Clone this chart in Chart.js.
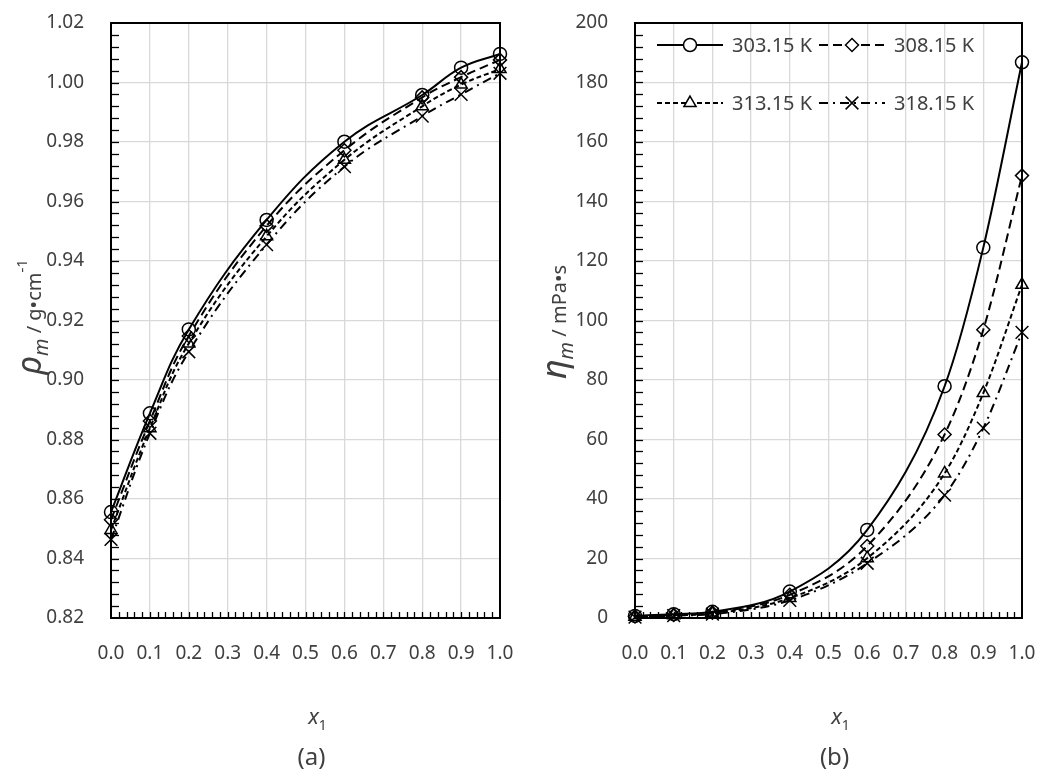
<!DOCTYPE html>
<html>
<head>
<meta charset="utf-8">
<script src="https://cdn.jsdelivr.net/npm/chart.js@4.4.1/dist/chart.umd.min.js"></script>
<style>
  html, body { margin: 0; padding: 0; background: #fff; }
  #wrap { position: relative; width: 1053px; height: 782px; overflow: hidden; }
  canvas { position: absolute; top: 0; }
</style>
</head>
<body>
<div id="wrap">
  <canvas id="rhoChart" width="520" height="782" style="left:0"></canvas>
  <canvas id="etaChart" width="533" height="782" style="left:520px"></canvas>
</div>
<script>
// mole fraction of component 1
const xMole = [0.0, 0.1, 0.2, 0.4, 0.6, 0.8, 0.9, 1.0];
const tempLabels = ["303.15 K", "308.15 K", "313.15 K", "318.15 K"];

// density, g/cm3
const rho303 = [0.8556, 0.8888, 0.9170, 0.9538, 0.9801, 0.9958, 1.0050, 1.0096];
const rho308 = [0.8530, 0.8862, 0.9148, 0.9518, 0.9772, 0.9950, 1.0018, 1.0076];
const rho313 = [0.8496, 0.8838, 0.9123, 0.9483, 0.9740, 0.9920, 0.9993, 1.0045];
const rho318 = [0.8464, 0.8821, 0.9095, 0.9455, 0.9717, 0.9887, 0.9960, 1.0031];

// viscosity, mPa s
const eta303 = [0.7, 1.3, 2.1, 8.9, 29.6, 77.9, 124.5, 186.8];
const eta308 = [0.5, 1.0, 1.8, 7.8, 24.2, 61.7, 96.9, 148.7];
const eta313 = [0.4, 0.9, 1.5, 6.7, 20.1, 48.6, 75.6, 112.0];
const eta318 = [0.3, 0.8, 1.3, 5.9, 18.4, 41.3, 63.8, 96.0];

const xTickLabels = ["0.0", "0.1", "0.2", "0.3", "0.4", "0.5", "0.6", "0.7", "0.8", "0.9", "1.0"];

const textColor = "#404040";
const fontFamily = '"Noto Sans", "DejaVu Sans", sans-serif';

const seriesStyle = [
  { dash: [], point: "circle", radius: 6.5 },
  { dash: [9, 5], point: "rectRot", radius: 6.5 },
  { dash: [5, 3], point: "triangle", radius: 7 },
  { dash: [9, 5, 2, 5], point: "crossRot", radius: 9 },
];

function makeDatasets(series, smoothing) {
  return series.map((values, i) => ({
    label: tempLabels[i],
    data: values.map((v, k) => ({ x: xMole[k], y: v })),
    borderColor: "#000",
    borderWidth: 2,
    borderDash: seriesStyle[i].dash,
    tension: 0.4,
    cubicInterpolationMode: smoothing,
    pointStyle: seriesStyle[i].point,
    pointRadius: seriesStyle[i].radius,
    pointHoverRadius: seriesStyle[i].radius,
    pointBorderWidth: 1.5,
    pointBorderColor: "#000",
    pointBackgroundColor: "rgba(0,0,0,0)",
    fill: false,
    clip: false,
  }));
}

// draws a run of text pieces (different fonts / offsets) centred on cx, baseline at cy
function drawRich(ctx, parts, cx, cy, angle) {
  ctx.save();
  ctx.translate(cx, cy);
  ctx.rotate(angle);
  ctx.fillStyle = textColor;
  ctx.textBaseline = "alphabetic";
  ctx.textAlign = "left";
  let total = 0;
  parts.forEach(p => { ctx.font = p.font; total += ctx.measureText(p.t).width; });
  let x = -total / 2;
  parts.forEach(p => {
    ctx.font = p.font;
    ctx.fillText(p.t, x, p.dy || 0);
    x += ctx.measureText(p.t).width;
  });
  ctx.restore();
}

// plot frame, inner minor ticks and the axis titles
const framePlugin = {
  id: "frame",
  beforeDatasetsDraw(chart, args, opts) {
    const { ctx, chartArea: a, scales } = chart;
    ctx.save();
    ctx.strokeStyle = "#000";
    ctx.lineWidth = 1.3;
    const ys = scales.y;
    const ny = Math.round((ys.max - ys.min) / opts.yMinor);
    for (let i = 1; i < ny; i++) {
      const py = Math.round(ys.getPixelForValue(ys.min + i * opts.yMinor)) + 0.5;
      ctx.beginPath();
      ctx.moveTo(a.left, py);
      ctx.lineTo(a.left + 8, py);
      ctx.stroke();
    }
    const xs = scales.x;
    const nx = Math.round((xs.max - xs.min) / opts.xMinor);
    for (let i = 1; i < nx; i++) {
      const px = Math.round(xs.getPixelForValue(xs.min + i * opts.xMinor)) + 0.5;
      ctx.beginPath();
      ctx.moveTo(px, a.bottom);
      ctx.lineTo(px, a.bottom - 6);
      ctx.stroke();
    }
    ctx.lineWidth = 2;
    ctx.strokeRect(a.left, a.top, a.right - a.left, a.bottom - a.top);
    ctx.restore();
  },
  afterDraw(chart, args, opts) {
    const { ctx, chartArea: a } = chart;
    drawRich(ctx, opts.yTitle, opts.yTitleX, opts.yTitleY, -Math.PI / 2);
    const cx = (a.left + a.right) / 2;
    drawRich(ctx, [
      { t: "x", font: "italic 22px " + fontFamily },
      { t: "1", font: "14px " + fontFamily, dy: 6 },
    ], cx + 12, 724, 0);
    drawRich(ctx, [{ t: opts.panel, font: "24px " + fontFamily }], cx + 6, 765, 0);
  },
};

// two-column legend drawn inside the plot area
const insideLegend = {
  id: "insideLegend",
  afterDatasetsDraw(chart) {
    const { ctx, chartArea: a } = chart;
    const cols = [22, 184];
    const rows = [22, 80];
    chart.data.datasets.forEach((ds, i) => {
      const x0 = a.left + cols[i % 2];
      const y0 = a.top + rows[Math.floor(i / 2)];
      ctx.save();
      ctx.strokeStyle = "#000";
      ctx.lineWidth = 2;
      ctx.setLineDash(ds.borderDash);
      ctx.beginPath();
      ctx.moveTo(x0, y0);
      ctx.lineTo(x0 + 66, y0);
      ctx.stroke();
      ctx.setLineDash([]);
      ctx.lineWidth = 1.5;
      ctx.fillStyle = "#fff";
      Chart.helpers.drawPoint(ctx, {
        pointStyle: ds.pointStyle, radius: ds.pointRadius, borderWidth: 1.5, rotation: 0,
      }, x0 + 33, y0);
      ctx.fillStyle = textColor;
      ctx.font = "20px " + fontFamily;
      ctx.textBaseline = "middle";
      ctx.fillText(ds.label, x0 + 75, y0 + 1);
      ctx.restore();
    });
  },
};

// label gaps are made with transparent tick marks, so they do not add layout padding
function axisOptions(yMin, yMax, yStep, yDigits, yWidth) {
  const tickFont = { family: fontFamily, size: 19 };
  return {
    x: {
      type: "linear",
      min: 0,
      max: 1,
      ticks: {
        stepSize: 0.1,
        padding: 0,
        color: textColor,
        font: tickFont,
        maxRotation: 0,
        callback: (v) => xTickLabels[Math.round(v * 10)],
      },
      grid: { color: "#d9d9d9", lineWidth: 1.3, drawTicks: true, tickLength: 24, tickColor: "rgba(0,0,0,0)" },
      border: { display: false },
      afterFit: (s) => { s.height = 164; },
    },
    y: {
      type: "linear",
      min: yMin,
      max: yMax,
      ticks: {
        stepSize: yStep,
        padding: 0,
        color: textColor,
        font: tickFont,
        callback: (v) => Number(v).toFixed(yDigits),
      },
      grid: { color: "#d9d9d9", lineWidth: 1.3, drawTicks: true, tickLength: 27, tickColor: "rgba(0,0,0,0)" },
      border: { display: false },
      afterFit: (s) => { s.width = yWidth; },
    },
  };
}

new Chart(document.getElementById("rhoChart"), {
  type: "line",
  data: { datasets: makeDatasets([rho303, rho308, rho313, rho318], "default") },
  plugins: [framePlugin],
  options: {
    responsive: false,
    animation: false,
    events: [],
    layout: { padding: { top: 23, right: 20, left: 0, bottom: 0 } },
    scales: axisOptions(0.82, 1.02, 0.02, 2, 111),
    plugins: {
      legend: { display: false },
      tooltip: { enabled: false },
      frame: {
        yMinor: 0.004,
        xMinor: 0.02,
        panel: "(a)",
        yTitleX: 41,
        yTitleY: 317,
        yTitle: [
          { t: "ρ", font: "italic 34px " + fontFamily },
          { t: "m", font: "italic 20px " + fontFamily, dy: 7 },
          { t: " / g\u2022cm", font: "20px " + fontFamily },
          { t: "-1", font: "15px " + fontFamily, dy: -14 },
        ],
      },
    },
  },
});

new Chart(document.getElementById("etaChart"), {
  type: "line",
  data: { datasets: makeDatasets([eta303, eta308, eta313, eta318], "monotone") },
  plugins: [framePlugin, insideLegend],
  options: {
    responsive: false,
    animation: false,
    events: [],
    layout: { padding: { top: 23, right: 31, left: 0, bottom: 0 } },
    scales: axisOptions(0, 200, 20, 0, 115),
    plugins: {
      legend: { display: false },
      tooltip: { enabled: false },
      frame: {
        yMinor: 4,
        xMinor: 0.02,
        panel: "(b)",
        yTitleX: 46,
        yTitleY: 322,
        yTitle: [
          { t: "η", font: "italic 34px " + fontFamily },
          { t: "m", font: "italic 20px " + fontFamily, dy: 7 },
          { t: " / mPa\u2022s", font: "20px " + fontFamily },
        ],
      },
    },
  },
});
</script>
</body>
</html>
